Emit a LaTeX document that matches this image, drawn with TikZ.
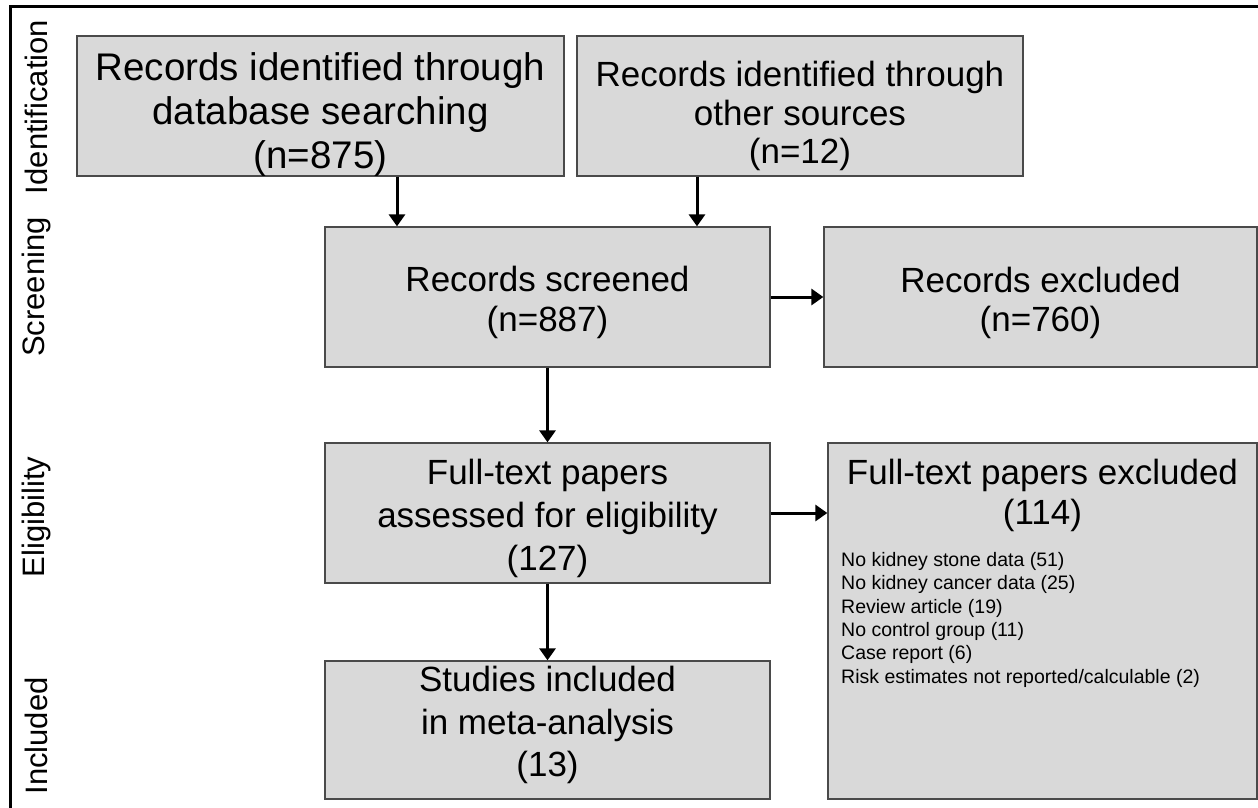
\documentclass[tikz,border=0pt]{standalone}
\usepackage{fontspec}
\setmainfont{Liberation Sans}
\usetikzlibrary{arrows.meta,calc}
\definecolor{boxfill}{HTML}{D9D9D9}
\definecolor{boxline}{HTML}{4A4A4A}
\begin{document}
\begin{tikzpicture}[x=1pt,y=-1pt,
  flowbox/.style={draw=boxline,line width=1.3pt,fill=boxfill,inner sep=0pt},
  boxtext/.style={inner sep=0pt,align=center,font=\fontsize{35}{42}\selectfont},
  sidelabel/.style={rotate=90,inner sep=0pt,font=\fontsize{31}{31}\selectfont},
  arr/.style={line width=3pt,-{Triangle[width=16pt,length=12pt]}}]
\useasboundingbox (0,0) rectangle (1258,807);
% outer frame
\draw[line width=3pt] (10,820) -- (10,6) -- (1270,6);
% side labels
\node[sidelabel] (lid) at (36,107) {Identification};
\node[sidelabel] (lsc) at (36,287) {Screening};
\node[sidelabel] (lel) at (36,517) {Eligibility};
\node[sidelabel] (lin) at (36,736) {Included};
% boxes
\node[flowbox,minimum width=487pt,minimum height=140pt] (b1) at (320.5,106) {};
\node[flowbox,minimum width=446pt,minimum height=140pt] (b2) at (800,106) {};
\node[flowbox,minimum width=445pt,minimum height=140pt] (b3) at (547.5,297) {};
\node[flowbox,minimum width=433pt,minimum height=140pt] (b4) at (1040.5,297) {};
\node[flowbox,minimum width=445pt,minimum height=140pt] (b5) at (547.5,513) {};
\node[flowbox,minimum width=429pt,minimum height=356pt] (b6) at (1042.5,621) {};
\node[flowbox,minimum width=445pt,minimum height=138pt] (b7) at (547.5,730) {};
% box texts
\node[boxtext,font=\fontsize{38.5}{44}\selectfont] (b1t) at (320.5,115)
  {Records identified through\\database searching\\(n=875)};
\node[boxtext,font=\fontsize{35}{38.5}\selectfont] (b2t) at (800,116)
  {Records identified through\\other sources\\(n=12)};
\node[boxtext,font=\fontsize{35}{40}\selectfont] (b3t) at (547.5,302) {Records screened\\(n=887)};
\node[boxtext,font=\fontsize{35}{39}\selectfont] (b4t) at (1040.5,303) {Records excluded\\(n=760)};
\node[boxtext,font=\fontsize{35}{43}\selectfont] (b5t) at (547.5,518)
  {Full-text papers\\assessed for eligibility\\(127)};
\node[boxtext,font=\fontsize{35}{42.5}\selectfont] (b7t) at (547.5,725)
  {Studies included\\in meta-analysis\\(13)};
\node[boxtext,font=\fontsize{35}{40}\selectfont] (b6t) at (1042.5,495)
  {Full-text papers excluded\\(114)};
\node[inner sep=0pt,align=left,anchor=north west,font=\fontsize{19.5}{23.4}\selectfont] (b6l) at (841,552)
  {No kidney stone data (51)\\No kidney cancer data (25)\\Review article (19)\\No control group (11)\\Case report (6)\\Risk estimates not reported/calculable (2)};
% connectors
\coordinate (xa) at (397,0);
\coordinate (xb) at (697,0);
\draw[arr] (b1.south -| xa) -- (b3.north -| xa);
\draw[arr] (b2.south -| xb) -- (b3.north -| xb);
\draw[arr] (b3.east) -- (b4.west);
\draw[arr] (b3.south) -- (b5.north);
\draw[arr] (b5.east) -- (b5.east -| b6.west);
\draw[arr] (b5.south) -- (b7.north);
\end{tikzpicture}
\end{document}
